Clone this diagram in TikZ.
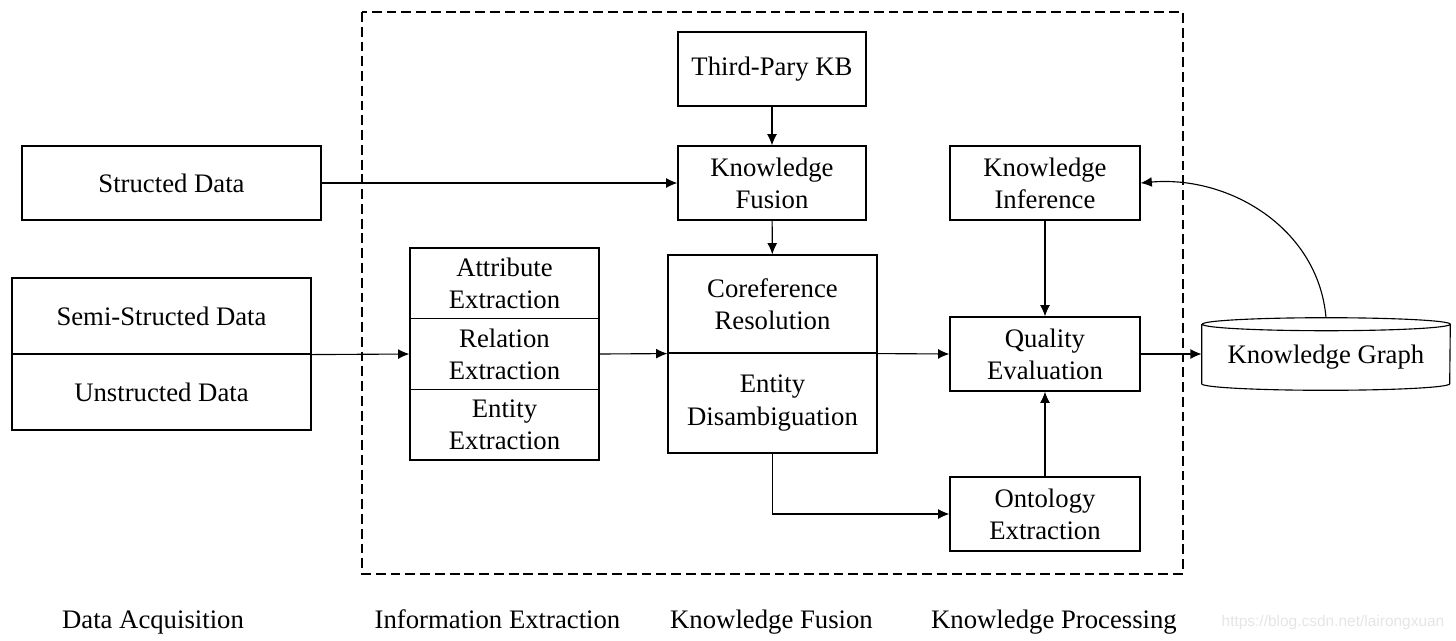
\documentclass[tikz,border=0pt]{standalone}
\usepackage{fontspec}
\setmainfont{Liberation Serif}
\newfontfamily\wmfont{Liberation Sans}
\usetikzlibrary{arrows.meta}

\begin{document}
\begin{tikzpicture}[x=0.025cm,y=-0.025cm,
    every node/.style={font=\fontsize{19}{22.8}\selectfont,align=center,inner sep=0pt},
    box/.style={draw,line width=0.8pt,minimum width=4.725cm,minimum height=1.85cm},
    arr/.style={line width=0.8pt,-{Latex[length=8pt,width=7pt]}}]
    \useasboundingbox (0,0) rectangle (1456,640);
    \draw[line width=0.8pt,dash pattern=on 7pt off 3.5pt] (362,12) rectangle (1183,574);

    \node[box,minimum width=7.475cm] (structed) at (171.5,183) {Structed Data};
    \node[box,minimum width=7.475cm,minimum height=1.9cm] (semi) at (161.5,316) {Semi-Structed Data};
    \node[box,minimum width=7.475cm,minimum height=1.9cm] (unstr) at (161.5,392) {Unstructed Data};

    \node[box,minimum height=1.767cm] (attr) at (504.5,283.3) {Attribute\\Extraction};
    \node[box,minimum height=1.767cm] (rel) at (504.5,354) {Relation\\Extraction};
    \node[box,minimum height=1.767cm] (ent) at (504.5,424.7) {Entity\\Extraction};

    \node[box,minimum width=4.7cm] (kb) at (772,69) {Third-Pary KB};
    \node[box,minimum width=4.7cm] (fusion) at (772,183) {Knowledge\\Fusion};
    \node[box,minimum width=5.225cm,minimum height=2.45cm] (coref) at (772.5,304) {Coreference\\Resolution};
    \node[box,minimum width=5.225cm,minimum height=2.5cm] (disamb) at (772.5,403) {Entity\\Disambiguation};

    \node[box,minimum width=4.75cm] (infer) at (1045,183) {Knowledge\\Inference};
    \node[box,minimum width=4.75cm] (qual) at (1045,354) {Quality\\Evaluation};
    \node[box,minimum width=4.75cm] (onto) at (1045,514) {Ontology\\Extraction};

    \node[minimum width=6.2cm,minimum height=1.475cm,text depth=0pt] (kg) at (1326,354) {Knowledge Graph};
    \draw[line width=0.8pt] (kg.north west) -- (kg.south west)
        arc[start angle=180,end angle=360,x radius=124,y radius=-6.5] -- (kg.north east)
        arc[start angle=0,end angle=360,x radius=124,y radius=-6.5];
    \coordinate (kgtop) at (1326,317.5);

    \draw[arr] (kb) -- (fusion);
    \draw[arr] (structed) -- (fusion);
    \draw[arr] (fusion) -- (coref);
    \draw[arr] (semi.south east) -- (rel.west);
    \draw[arr] (rel.east) -- (coref.south west);
    \draw[arr] (coref.south east) -- (qual.west);
    \draw[arr] (infer) -- (qual);
    \draw[arr] (onto) -- (qual);
    \draw[arr] (disamb.south) |- (onto.west);
    \draw[arr] (qual.east) -- (kg.west);
    \draw[arr] (kgtop) to[out=95,in=5] (infer.east);

    \node[anchor=base] (l1) at (153,628) {Data Acquisition};
    \node[anchor=base] (l2) at (497.5,628) {Information Extraction};
    \node[anchor=base] (l3) at (771.5,628) {Knowledge Fusion};
    \node[anchor=base] (l4) at (1054,628) {Knowledge Processing};
    \node[anchor=base,font=\wmfont\fontsize{11}{13}\selectfont,text=gray!20] (wm) at (1333,626) {https://blog.csdn.net/lairongxuan};
\end{tikzpicture}
\end{document}
